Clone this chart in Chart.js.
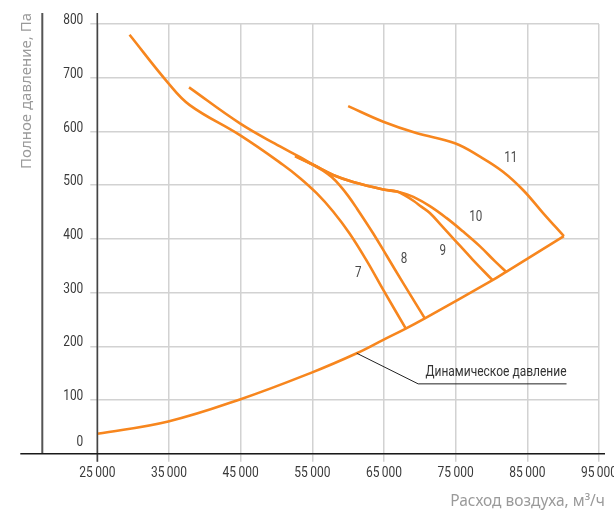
<!DOCTYPE html>
<html>
<head>
<meta charset="utf-8">
<script src="https://cdn.jsdelivr.net/npm/chart.js@4.4.1/dist/chart.umd.min.js"></script>
<style>
  html, body { margin: 0; padding: 0; background: #fff; }
  #wrap { width: 614px; height: 513px; position: relative; }
</style>
</head>
<body>
<div id="wrap"><canvas id="c" width="614" height="513"></canvas></div>
<script>
// ---- Data ----
const xTickValues = [25000, 35000, 45000, 55000, 65000, 75000, 85000, 95000];
const yTickValues = [0, 100, 200, 300, 400, 500, 600, 700, 800];

const curve7 = [[29500,780],[34900,690],[37900,649],[44900,593],[50900,538],[53300,513],[55600,485],[57900,451],[60200,410],[62600,359],[64900,305],[68050,233]];
const curve8 = [[37800,682],[44900,615],[50500,572],[53300,552],[55100,538],[56500,527],[57700,515],[58800,500],[60000,480],[61200,457],[63500,410],[65400,368],[67700,317],[70700,252]];
const curve9 = [[52600,554],[55100,538],[57900,519],[60700,506],[64900,492],[66800,488],[67900,481],[69100,471],[70200,460],[71400,448],[73000,425],[74650,401],[77400,361],[80150,323]];
const curve10 = [[52600,554],[55100,538],[57900,519],[60700,506],[64900,492],[66800,488],[67900,484],[69100,478],[71400,461],[73700,439],[76000,414],[78400,386],[80500,358],[82100,338]];
const curve11 = [[60000,647],[64900,618],[69500,597],[74900,578],[78400,553],[81600,525],[84400,491],[87200,448],[90100,405]];
const dynamicCurve = [[25000,37],[34900,60],[44900,101],[54900,151],[61200,187],[64900,212],[67900,232],[70700,252],[80150,323],[82100,339],[90100,405]];
const leaderLine = [[61200,187],[69770,130],[90470,130]];

const curveLabels = ['7', '8', '9', '10', '11'];
const curveLabelPos = [[61400,336],[67800,362],[73200,378],[77800,440],[82700,551]];
const dynamicLabel = 'Динамическое давление';
const dynamicLabelPos = [90470, 152];
const yTitle = 'Полное давление, Па';
const xTitle = 'Расход воздуха, м³/ч';

// ---- Styles ----
const ORANGE = '#F7861E';
const NARROW = 'Roboto, "Liberation Sans", sans-serif';
const REG = '"Noto Sans", "Open Sans", sans-serif';

const toPts = arr => arr.map(p => ({x: p[0], y: p[1]}));
const fmt = v => {
  const s = String(v);
  return s.length > 3 ? s.slice(0, s.length - 3) + '\u2009' + s.slice(-3) : s;
};

function curveDs(data) {
  return {
    data: toPts(data), borderColor: ORANGE, borderWidth: 2.6, pointRadius: 0,
    tension: 0.4, fill: false, borderCapStyle: 'butt'
  };
}

// condensed-looking text: a regular face squeezed horizontally
function narrowText(ctx, text, x, y, size, sx, align, color) {
  ctx.save();
  ctx.font = size + 'px ' + NARROW;
  ctx.fillStyle = color;
  ctx.textBaseline = 'middle';
  ctx.textAlign = 'left';
  const w = ctx.measureText(text).width * sx;
  const left = align === 'center' ? x - w / 2 : (align === 'right' ? x - w : x);
  ctx.translate(left, y);
  ctx.scale(sx, 1);
  ctx.fillText(text, 0, 0);
  ctx.restore();
}

const decor = {
  id: 'decor',
  beforeDatasetsDraw(chart) {
    const {ctx, chartArea: a} = chart;
    ctx.save();
    ctx.strokeStyle = '#555';
    ctx.lineWidth = 2;
    ctx.beginPath(); ctx.moveTo(a.left - 55, a.top - 11); ctx.lineTo(a.left - 55, a.bottom); ctx.stroke();
    ctx.restore();
  },
  afterDatasetsDraw(chart) {
    const {ctx, chartArea: a, scales} = chart;
    const xs = scales.x, ys = scales.y;
    ctx.save();
    // y axis line
    ctx.strokeStyle = '#444';
    ctx.lineWidth = 1.6;
    ctx.beginPath(); ctx.moveTo(a.left, a.top - 11); ctx.lineTo(a.left, a.bottom + 8); ctx.stroke();
    // x axis line
    ctx.strokeStyle = '#1a1a1a';
    ctx.lineWidth = 1.6;
    ctx.beginPath(); ctx.moveTo(a.left - 77, a.bottom); ctx.lineTo(a.right + 6, a.bottom); ctx.stroke();
    ctx.restore();

    // tick labels
    ys.ticks.forEach(t => {
      const py = ys.getPixelForValue(t.value) + (t.value === 0 ? -11 : -3.3);
      narrowText(ctx, String(t.value), a.left - 14, py, 14, 0.85, 'right', '#3a3a3a');
    });
    xs.ticks.forEach(t => {
      narrowText(ctx, fmt(t.value), xs.getPixelForValue(t.value), a.bottom + 19.5, 15, 0.8, 'center', '#3a3a3a');
    });

    // curve labels
    curveLabels.forEach((t, i) => {
      narrowText(ctx, t, xs.getPixelForValue(curveLabelPos[i][0]), ys.getPixelForValue(curveLabelPos[i][1]), 15.5, 0.75, 'center', '#4a4a4a');
    });
    // dynamic pressure label
    narrowText(ctx, dynamicLabel, xs.getPixelForValue(dynamicLabelPos[0]), ys.getPixelForValue(dynamicLabelPos[1]), 15, 0.8, 'right', '#333');

    // axis titles
    ctx.save();
    ctx.fillStyle = '#9a9a9a';
    ctx.textBaseline = 'middle';
    ctx.textAlign = 'right';
    ctx.font = '15.5px ' + REG;
    ctx.fillText(xTitle, a.right + 6, a.bottom + 48);
    ctx.font = '15px ' + REG;
    ctx.translate(a.left - 71, a.top - 11);
    ctx.rotate(-Math.PI / 2);
    ctx.fillText(yTitle, 0, 0);
    ctx.restore();
  }
};

new Chart(document.getElementById('c'), {
  type: 'line',
  data: {
    datasets: [
      {data: toPts(leaderLine), borderColor: '#222', borderWidth: 1, pointRadius: 0, tension: 0, fill: false},
      curveDs(dynamicCurve),
      curveDs(curve7),
      curveDs(curve8),
      curveDs(curve9),
      curveDs(curve10),
      curveDs(curve11)
    ]
  },
  options: {
    responsive: false,
    animation: false,
    devicePixelRatio: 1,
    layout: {padding: {left: 0, right: 15, top: 24, bottom: 0}},
    plugins: {legend: {display: false}, tooltip: {enabled: false}},
    scales: {
      x: {
        type: 'linear', min: 25000, max: 95000,
        afterBuildTicks: s => { s.ticks = xTickValues.map(v => ({value: v})); },
        afterFit: s => { s.height = 59.3; s.paddingLeft = 0; s.paddingRight = 0; },
        grid: {color: '#d2d2d2', lineWidth: 1.5, tickLength: 8, drawTicks: true},
        border: {display: false},
        ticks: {display: false, autoSkip: false}
      },
      y: {
        type: 'linear', min: 0, max: 800,
        afterBuildTicks: s => { s.ticks = yTickValues.map(v => ({value: v})); },
        afterFit: s => { s.width = 97.3; s.paddingTop = 0; s.paddingBottom = 0; },
        grid: {color: '#d2d2d2', lineWidth: 1.5, tickLength: 7, drawTicks: true},
        border: {display: false},
        ticks: {display: false, autoSkip: false}
      }
    }
  },
  plugins: [decor]
});
</script>
</body>
</html>
